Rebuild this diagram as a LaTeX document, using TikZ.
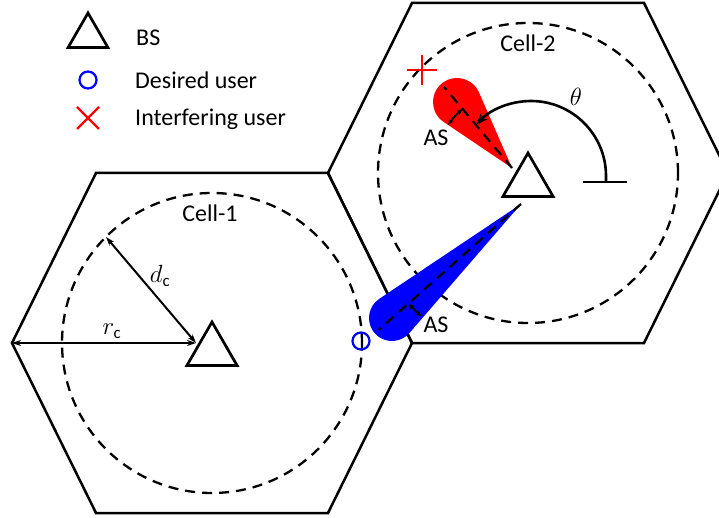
\documentclass[tikz,border=0pt]{standalone}
\usepackage{fontspec}
\setmainfont{Carlito}
\usetikzlibrary{arrows.meta,positioning,shapes.geometric}

\begin{document}
\begin{tikzpicture}[
  x=1pt, y=1pt,
  every node/.style={font=\fontsize{24}{28}\selectfont, inner sep=0pt},
  cellline/.style={line width=2.5pt, line join=miter},
  cellring/.style={line width=2.3pt, dash pattern=on 10pt off 7pt},
  bsnode/.style={draw, line width=2.7pt, regular polygon, regular polygon sides=3, minimum size=58pt},
  usernode/.style={draw=blue, circle, line width=2.2pt, minimum size=17pt},
  beamaxis/.style={line width=2.3pt, dash pattern=on 10pt off 7pt},
  dimarrow/.style={line width=2pt, {Stealth[length=9pt,width=6pt]}-{Stealth[length=9pt,width=6pt]}},
  asarrow/.style={line width=2pt, {Stealth[length=6pt,width=5pt]}-{Stealth[length=6pt,width=5pt]}},
  thetaline/.style={line width=2.6pt}
]
\clip (0,0) rectangle (719,517);

% Celdas
\coordinate (c1) at (212,174);
\coordinate (c2) at (528,344);
\draw[cellline] (c1) ++(-200,0) -- ++(84,170) -- ++(232,0) -- ++(84,-170) -- ++(-84,-170) -- ++(-232,0) -- cycle;
\draw[cellline] (c2) ++(-200,0) -- ++(84,170) -- ++(232,0) -- ++(84,-170) -- ++(-84,-170) -- ++(-232,0) -- cycle;
\draw[cellring] (c1) circle[radius=150];
\draw[cellring] (c2) circle[radius=150];
\node (cell1) at (210,304) {Cell-1};
\node (cell2) at (528,474) {Cell-2};

% Leyenda
\node[bsnode, minimum size=46pt] (legbs) at (88,481) {};
\node[anchor=west] (legbstxt) at (136,479) {BS};
\node[usernode] (legdu) at (88,437) {};
\node[anchor=west] (legdutxt) at (135,437) {Desired user};
\coordinate (legiu) at (88,399);
\draw[red, line width=2.4pt] (legiu) +(-11,-11) -- +(11,11) +(-11,11) -- +(11,-11);
\node[anchor=west] (legiutxt) at (135,398) {Interfering user};

% Haces
\coordinate (tr) at (512,349);
\coordinate (cr) at (457,415);
\coordinate (tb) at (521,313);
\coordinate (cb) at (392,199);
\fill[red] (tr) -- ([shift={(cr)}]23.6:24) arc[start angle=23.6, end angle=236, radius=24] -- cycle;
\fill[blue] (tb) -- ([shift={(cb)}]123.8:23) arc[start angle=123.8, end angle=319.2, radius=23] -- cycle;
\coordinate (ar) at ([shift={(tr)}]130:106);
\coordinate (ab) at ([shift={(tb)}]221.5:190);
\draw[beamaxis] (tr) -- (ar);
\draw[beamaxis] (tb) -- (ab);
\draw[asarrow] ([shift={(tr)}]146:77) arc[start angle=146, end angle=130, radius=77];
\draw[asarrow] ([shift={(tb)}]221.5:150) arc[start angle=221.5, end angle=228.5, radius=150];
\node (asr) at (436,379) {AS};
\node (asb) at (436,192) {AS};

% Estaciones base y usuarios
\node[bsnode] (bs1) at (212,166) {};
\node[bsnode] (bs2) at (528,335) {};
\node[usernode] (du) at (361,176) {};
\coordinate (iu) at (422,447);
\draw[red, line width=2.6pt] (iu) +(-15,0) -- +(15,0) +(0,-15) -- +(0,15);

% Angulo
\draw[thetaline] (583,335) -- (627,335);
\draw[thetaline, -{Stealth[length=12pt,width=9pt]}] (606,335) -- (606,341) arc[start angle=0, end angle=137, radius=75];
\node[font=\fontsize{32}{36}\selectfont] (theta) at (576,420) {$\theta$};

% Radios
\coordinate (v1) at (12,174);
\coordinate (p1) at (196,174);
\coordinate (q1) at (106,280);
\draw[dimarrow] (v1) -- (p1);
\draw[dimarrow] (q1) -- (p1);
\node (rc) at (112,186) {$r_{\mathrm{c}}$};
\node (dc) at (160,241) {$d_{\mathrm{c}}$};

\end{tikzpicture}
\end{document}
